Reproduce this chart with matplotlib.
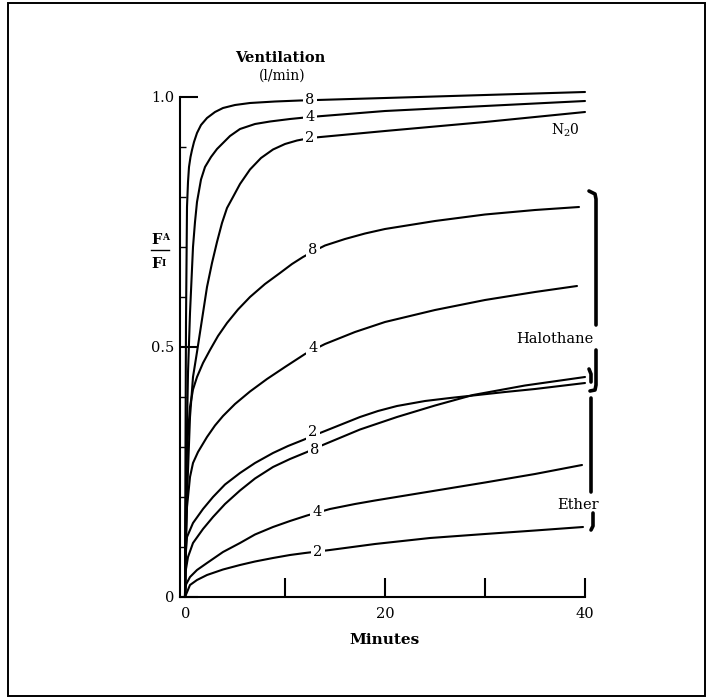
import matplotlib
matplotlib.use("Agg")
import matplotlib.pyplot as plt
from matplotlib.patches import Rectangle

plt.rcParams['font.family'] = ['DejaVu Serif']
plt.rcParams['mathtext.fontset'] = 'dejavuserif'

# ---- data (minutes, FA/FI) ----
n2o_8_x = [0, 0.05, 0.1, 0.2, 0.3, 0.4, 0.55, 0.7, 0.9, 1.2, 1.6, 2.2, 3.0, 3.8, 5.0, 6.5, 9.0, 11.5, 20, 30, 40]
n2o_8_y = [0, 0.3, 0.55, 0.78, 0.83, 0.86, 0.88, 0.894, 0.91, 0.928, 0.944, 0.958, 0.97, 0.978, 0.984, 0.988, 0.991, 0.993, 0.998, 1.004, 1.01]

n2o_4_x = [0, 0.1, 0.2, 0.3, 0.5, 0.8, 1.0, 1.2, 1.6, 2.0, 2.6, 3.2, 4.5, 5.5, 7.0, 8.5, 10.5, 12.5, 20, 30, 40]
n2o_4_y = [0, 0.2, 0.34, 0.448, 0.568, 0.70, 0.75, 0.79, 0.835, 0.86, 0.88, 0.896, 0.922, 0.936, 0.946, 0.951, 0.956, 0.96, 0.972, 0.982, 0.992]

n2o_2_x = [0, 0.2, 0.5, 0.8, 1.2, 1.8, 2.2, 2.7, 3.2, 3.7, 4.2, 4.8, 5.5, 6.5, 7.6, 8.8, 10.0, 11.2, 12.5, 20, 30, 40]
n2o_2_y = [0, 0.2, 0.36, 0.44, 0.49, 0.568, 0.62, 0.668, 0.71, 0.748, 0.778, 0.80, 0.826, 0.855, 0.878, 0.895, 0.906, 0.913, 0.918, 0.932, 0.95, 0.97]

hal_8_x = [0, 0.05, 0.2, 0.5, 0.8, 1.2, 1.8, 2.5, 3.3, 4.2, 5.3, 6.5, 8.0, 9.5, 10.7, 11.8, 13, 14, 16, 18, 20, 25, 30, 35, 39.4]
hal_8_y = [0, 0.15, 0.3, 0.38, 0.415, 0.44, 0.468, 0.494, 0.522, 0.548, 0.575, 0.60, 0.626, 0.648, 0.666, 0.68, 0.693, 0.703, 0.716, 0.727, 0.736, 0.752, 0.765, 0.774, 0.78]

hal_4_x = [0, 0.05, 0.2, 0.5, 0.8, 1.3, 2.2, 3.0, 3.8, 5.0, 6.5, 8.2, 10, 12, 14, 17, 20, 25, 30, 35, 39.2]
hal_4_y = [0, 0.1, 0.18, 0.24, 0.268, 0.29, 0.32, 0.343, 0.362, 0.386, 0.411, 0.436, 0.46, 0.486, 0.506, 0.53, 0.55, 0.574, 0.594, 0.61, 0.622]

hal_2_x = [0, 0.05, 0.2, 0.8, 1.8, 2.8, 4.0, 5.5, 7.0, 8.8, 10.3, 11.8, 13, 14.5, 16, 17.5, 19.3, 21.2, 24, 26.5, 28.8, 32, 35, 40]
hal_2_y = [0, 0.08, 0.12, 0.148, 0.176, 0.2, 0.225, 0.248, 0.268, 0.288, 0.302, 0.314, 0.324, 0.336, 0.348, 0.36, 0.372, 0.382, 0.392, 0.398, 0.403, 0.41, 0.416, 0.428]

eth_8_x = [0, 0.05, 0.3, 0.8, 1.8, 2.8, 4.0, 5.5, 7.0, 8.8, 10.5, 12.2, 13.3, 14.5, 17.5, 21.2, 25, 28.8, 34, 40]
eth_8_y = [0, 0.05, 0.08, 0.108, 0.136, 0.16, 0.186, 0.213, 0.237, 0.26, 0.276, 0.29, 0.30, 0.31, 0.335, 0.36, 0.383, 0.404, 0.423, 0.44]

eth_4_x = [0, 0.1, 0.5, 1.2, 2.2, 3.8, 5.5, 7.0, 8.8, 10.5, 12.2, 14.5, 17, 19, 24.5, 30, 35, 39.7]
eth_4_y = [0, 0.025, 0.04, 0.054, 0.068, 0.09, 0.108, 0.125, 0.14, 0.152, 0.163, 0.176, 0.186, 0.193, 0.211, 0.229, 0.246, 0.264]

eth_2_x = [0, 0.5, 1.2, 2.2, 3.8, 5.5, 7.0, 8.8, 10.5, 12, 14.5, 19, 24.5, 30, 35, 39.8]
eth_2_y = [0, 0.024, 0.034, 0.044, 0.055, 0.064, 0.071, 0.078, 0.084, 0.088, 0.094, 0.106, 0.118, 0.126, 0.133, 0.14]

curve_labels = ['8', '4', '2', '8', '4', '2', '8', '4', '2']
label_x = [12.5, 12.5, 12.5, 12.8, 12.8, 12.8, 13.0, 13.2, 13.3]
label_y = [0.994, 0.960, 0.918, 0.694, 0.498, 0.330, 0.294, 0.170, 0.090]

y_ticks = [0, 0.5, 1.0]
y_tick_labels = ['0', '0.5', '1.0']
x_ticks = [10, 20, 30, 40]
x_tick_labels = ['', '20', '', '40']

W, H = 706, 698
fig = plt.figure(figsize=(W / 100, H / 100), dpi=100)
fig.patch.set_facecolor('white')

# frame
fig.add_artist(Rectangle((8 / W, 2 / H), 697 / W, 693 / H, transform=fig.transFigure,
                         fill=False, lw=1.4, ec='black'))

ax = fig.add_axes([180 / W, (H - 597) / H, 405 / W, 500 / H])
ax.set_xlim(-0.5, 40)
ax.set_ylim(0, 1.0)
for s in ['top', 'right']:
    ax.spines[s].set_visible(False)
ax.spines['left'].set_linewidth(1.5)
ax.spines['bottom'].set_linewidth(1.5)
ax.spines['bottom'].set_bounds(-0.5, 40)

curves = [(n2o_8_x, n2o_8_y), (n2o_4_x, n2o_4_y), (n2o_2_x, n2o_2_y),
          (hal_8_x, hal_8_y), (hal_4_x, hal_4_y), (hal_2_x, hal_2_y),
          (eth_8_x, eth_8_y), (eth_4_x, eth_4_y), (eth_2_x, eth_2_y)]
for (cx, cy) in curves:
    ax.plot(cx, cy, color='black', lw=1.5, clip_on=False, solid_capstyle='round',
            solid_joinstyle='round')

for t, lx, ly in zip(curve_labels, label_x, label_y):
    ax.text(lx, ly, t, ha='center', va='center', fontsize=10.5, color='black',
            bbox=dict(boxstyle='square,pad=0.15', fc='white', ec='none'), zorder=5)

ax.set_yticks(y_ticks)
ax.set_yticklabels(y_tick_labels)
ax.set_yticks([0.1, 0.2, 0.3, 0.4, 0.6, 0.7, 0.8, 0.9], minor=True)
ax.tick_params(axis='y', which='major', direction='in', length=13, width=1.5, pad=4, labelsize=10.5)
ax.tick_params(axis='y', which='minor', direction='in', length=4, width=1.0)
ax.set_xticks(x_ticks)
ax.set_xticklabels(x_tick_labels)
ax.tick_params(axis='x', which='major', direction='in', length=14, width=1.5, pad=7, labelsize=10.5)
ax.text(0.1, -0.034, '0', ha='center', va='center', fontsize=10.5)

# texts
ax.text(9.5, 1.078, 'Ventilation', ha='center', va='center', fontsize=10.5, fontweight='bold')
ax.text(9.7, 1.042, '(l/min)', ha='center', va='center', fontsize=10)
ax.text(20, -0.086, 'Minutes', ha='center', va='center', fontsize=11, fontweight='bold')
ax.text(38.0, 0.934, r'N$_2$0', ha='center', va='center', fontsize=10)
ax.text(37.0, 0.516, 'Halothane', ha='center', va='center', fontsize=10.5)
ax.text(39.3, 0.184, 'Ether', ha='center', va='center', fontsize=10.5)

# FA / FI label
ax.text(-2.3, 0.715, 'F', ha='right', va='center', fontsize=10.5, fontweight='bold', clip_on=False)
ax.text(-2.3, 0.718, 'A', ha='left', va='center', fontsize=6.5, fontweight='bold', clip_on=False)
ax.plot([-3.4, -1.6], [0.694, 0.694], color='black', lw=1.0, clip_on=False)
ax.text(-2.3, 0.667, 'F', ha='right', va='center', fontsize=10.5, fontweight='bold', clip_on=False)
ax.text(-2.3, 0.667, 'I', ha='left', va='center', fontsize=6.5, fontweight='bold', clip_on=False)

# brackets
bk = dict(color='black', lw=2.6, clip_on=False, solid_capstyle='round')
ax.plot([40.4, 41.0, 41.1, 41.1], [0.812, 0.806, 0.796, 0.544], **bk)
ax.plot([41.1, 41.1, 41.0, 40.5], [0.494, 0.424, 0.414, 0.412], **bk)
ax.plot([40.4, 40.6, 40.6], [0.456, 0.446, 0.43], **bk)
ax.plot([40.6, 40.6], [0.398, 0.21], **bk)
ax.plot([40.8, 40.8, 40.6], [0.168, 0.142, 0.134], **bk)

fig.savefig('out.png', dpi=100, facecolor='white')
